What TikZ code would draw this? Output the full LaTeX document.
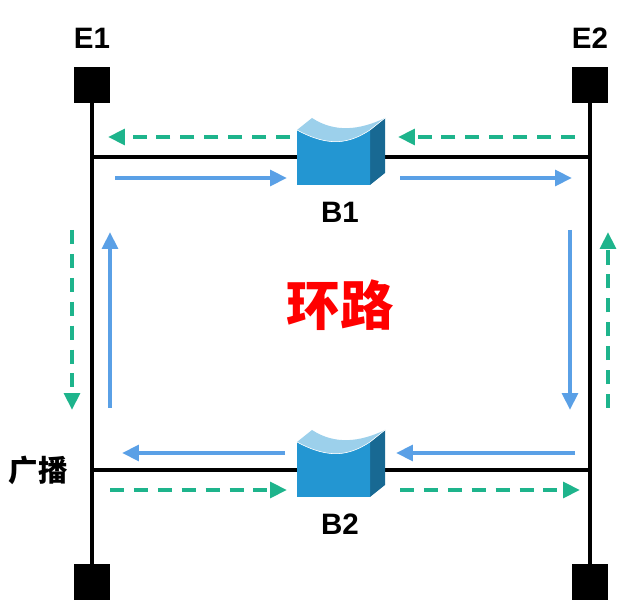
\documentclass[tikz,border=0pt]{standalone}
\usepackage{fontspec}
\setmainfont{Liberation Sans}
\newfontfamily\cjk{Noto Sans CJK SC}
\usetikzlibrary{positioning,arrows.meta}
\definecolor{flowblue}{RGB}{90,160,230}
\definecolor{flowgreen}{RGB}{30,180,140}
\definecolor{bridgeblue}{RGB}{35,150,210}
\begin{document}
\begin{tikzpicture}[x=0.025cm,y=-0.025cm,
    term/.style={fill=black,minimum size=0.88cm,inner sep=0pt},
    lbl/.style={font=\bfseries\fontsize{21}{24}\selectfont},
    wire/.style={line width=3pt},
    fwd/.style={flowblue,line width=3pt,-{Triangle[length=12pt,width=11pt]}},
    back/.style={flowgreen,line width=3pt,dash pattern=on 10pt off 7pt,-{Triangle[length=12pt,width=11pt]}}
    ]
  \useasboundingbox (0,0) rectangle (640,615);
  % --- terminals ---
  \node[term] (t1) at (92,85) {};
  \node[term] (b1) at (92,582) {};
  \node[term] (t2) at (590,85) {};
  \node[term] (b2) at (590,582) {};
  \node[lbl] at (92,38) {E1};
  \node[lbl] at (590,38) {E2};
  \draw[wire] (t1) -- (b1);
  \draw[wire] (t2) -- (b2);
  \coordinate (l1) at (92,157); \coordinate (r1) at (590,157);
  \coordinate (l2) at (92,470); \coordinate (r2) at (590,470);
  \draw[wire] (l1) -- (r1);
  \draw[wire] (l2) -- (r2);
  % --- bridges ---
  \foreach \nm/\y in {B1/118,B2/430}{
    \fill[bridgeblue!70!black] (370,\y+12) -- (385,\y) -- (385,\y+55) -- (370,\y+67) -- cycle;
    \fill[bridgeblue] (297,\y+12) .. controls (330,\y+30) and (350,\y+25) .. (370,\y+12) -- (370,\y+67) -- (297,\y+67) -- cycle;
    \fill[bridgeblue!45!white] (297,\y+12) .. controls (330,\y+30) and (350,\y+25) .. (370,\y+12) -- (385,\y) .. controls (360,\y+12) and (335,\y+15) .. (312,\y) -- cycle;
    \draw[white,thin] (297,\y+12) .. controls (330,\y+30) and (350,\y+25) .. (370,\y+12) -- (385,\y);
    \node[lbl] (\nm) at (340,\y+94) {\nm};
  }
  % --- flows ---
  \draw[back] (290,137) -- (108,137);
  \draw[back] (575,137) -- (398,137);
  \draw[fwd] (115,178) -- (287,178);
  \draw[fwd] (400,178) -- (572,178);
  \draw[back] (72,230) -- (72,410);
  \draw[fwd] (110,408) -- (110,232);
  \draw[fwd] (570,230) -- (570,410);
  \draw[back] (608,408) -- (608,232);
  \draw[fwd] (285,453) -- (122,453);
  \draw[fwd] (575,453) -- (396,453);
  \draw[back] (110,490) -- (287,490);
  \draw[back] (400,490) -- (580,490);
  % --- texts ---
  \node[text=red,font=\cjk\bfseries\fontsize{38}{42}\selectfont] (loop) at (340,305) {环路};
  \node[font=\cjk\bfseries\fontsize{21}{24}\selectfont] (bcast) at (38,470) {广播};
\end{tikzpicture}
\end{document}
